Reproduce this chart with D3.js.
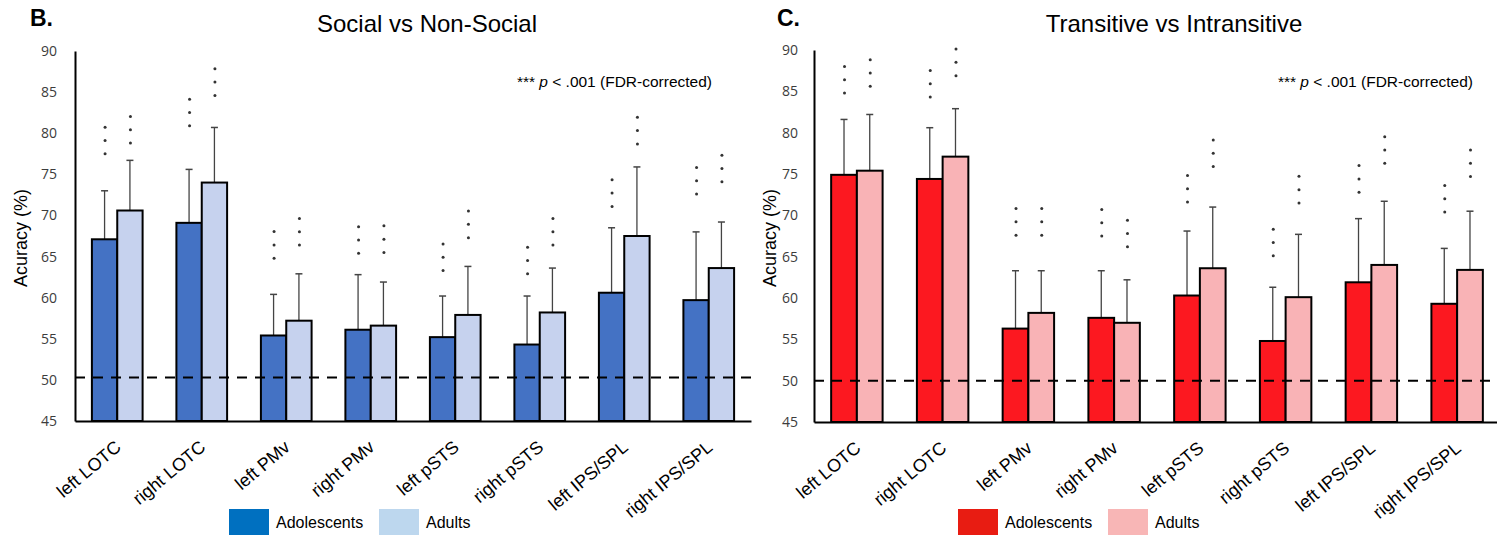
<!DOCTYPE html>
<html>
<head>
<meta charset="utf-8">
<script src="https://cdn.jsdelivr.net/npm/d3@7"></script>
<style>
  body { margin: 0; background: #fff; }
  svg { display: block; }
</style>
</head>
<body>
<svg id="chart"></svg>
<script>
// regions on the x axis (same for both panels)
var regions = ["left LOTC", "right LOTC", "left PMv", "right PMv", "left pSTS", "right pSTS", "left IPS/SPL", "right IPS/SPL"]
var groups = ["Adolescents", "Adults"]
var yTicks = [45, 50, 55, 60, 65, 70, 75, 80, 85, 90]

// B. Social vs Non-Social
var socialAdol = [67.1, 69.1, 55.4, 56.1, 55.2, 54.3, 60.6, 59.7]
var socialAdult = [70.6, 74.0, 57.2, 56.6, 57.9, 58.2, 67.5, 63.6]
var socialAdolErr = [5.9, 6.5, 5.0, 6.7, 5.0, 5.9, 7.9, 8.3]
var socialAdultErr = [6.1, 6.7, 5.7, 5.3, 5.9, 5.4, 8.4, 5.6]
// height (in %) of the lowest of the three significance stars
var socialAdolStar = [77.5, 80.9, 64.8, 65.4, 63.3, 62.9, 71.1, 72.6]
var socialAdultStar = [78.8, 84.6, 66.4, 65.5, 67.3, 66.4, 78.7, 74.1]
var socialChance = 50.3

// C. Transitive vs Intransitive
var transAdol = [74.9, 74.4, 56.3, 57.6, 60.3, 54.8, 61.9, 59.3]
var transAdult = [75.4, 77.1, 58.2, 57.0, 63.6, 60.1, 64.0, 63.4]
var transAdolErr = [6.7, 6.2, 7.0, 5.7, 7.8, 6.5, 7.7, 6.7]
var transAdultErr = [6.8, 5.8, 5.1, 5.2, 7.4, 7.6, 7.7, 7.1]
var transAdolStar = [84.8, 84.3, 67.6, 67.5, 71.6, 65.1, 72.8, 70.4]
var transAdultStar = [85.6, 86.9, 67.6, 66.2, 75.9, 71.5, 76.3, 74.7]
var transChance = 50

var svg = d3.select("#chart")
    .attr("width", 1497)
    .attr("height", 537)
    .style("font-family", "'Liberation Sans', Arial, sans-serif")

function drawPanel(p) {
    var g = svg.append("g")

    var yScale = d3.scaleLinear()
        .domain([45, 90])
        .range([p.bottom, p.top])

    var x0 = d3.scaleBand()
        .domain(regions)
        .range([p.left, p.right])
        .paddingInner(0.4)
        .paddingOuter(0.2)

    var x1 = d3.scaleBand()
        .domain(groups)
        .range([0, x0.bandwidth()])

    var rows = regions.map(function(r, i) {
        return [
            {region: r, group: "Adolescents", value: p.adol[i], err: p.adolErr[i], star: p.adolStar[i], fill: p.colors[0]},
            {region: r, group: "Adults", value: p.adult[i], err: p.adultErr[i], star: p.adultStar[i], fill: p.colors[1]}
        ]
    }).flat()

    var cx = d => x0(d.region) + x1(d.group) + x1.bandwidth() / 2

    // error bars (upper half only)
    var errs = g.append("g")
        .selectAll("g")
        .data(rows)
        .enter()
        .append("g")
    errs.append("line")
        .attr("x1", cx).attr("x2", cx)
        .attr("y1", d => yScale(d.value))
        .attr("y2", d => yScale(d.value + d.err))
        .attr("stroke", "#444")
        .attr("stroke-width", 1.3)
    errs.append("line")
        .attr("x1", d => cx(d) - 3.5).attr("x2", d => cx(d) + 3.5)
        .attr("y1", d => yScale(d.value + d.err))
        .attr("y2", d => yScale(d.value + d.err))
        .attr("stroke", "#444")
        .attr("stroke-width", 1.5)

    // bars
    g.append("g")
        .selectAll("rect")
        .data(rows)
        .enter()
        .append("rect")
        .attr("x", d => x0(d.region) + x1(d.group))
        .attr("y", d => yScale(d.value))
        .attr("width", x1.bandwidth())
        .attr("height", d => yScale(45) - yScale(d.value))
        .attr("fill", d => d.fill)
        .attr("stroke", "#000")
        .attr("stroke-width", 2)

    // *** markers, three stacked dots
    var dots = []
    rows.forEach(function(d) {
        for (var k = 0; k < 3; k++) dots.push({d: d, k: k})
    })
    g.append("g")
        .selectAll("circle")
        .data(dots)
        .enter()
        .append("circle")
        .attr("cx", o => cx(o.d) + 0.5)
        .attr("cy", o => yScale(o.d.star) - o.k * 13.3)
        .attr("r", 1.5)
        .attr("fill", "#333")

    // chance level
    g.append("line")
        .attr("x1", p.left).attr("x2", p.right)
        .attr("y1", yScale(p.chance)).attr("y2", yScale(p.chance))
        .attr("stroke", "#000")
        .attr("stroke-width", 2)
        .attr("stroke-dasharray", "10,8")

    // y axis
    var yAxisGen = d3.axisLeft(yScale).tickValues(yTicks).tickSize(0).tickPadding(p.tickPad)
    var yAxis = g.append("g")
        .attr("transform", `translate(${p.left},0)`)
        .call(yAxisGen)
    yAxis.select(".domain").attr("stroke", "#000").attr("stroke-width", 2)
    yAxis.selectAll("text")
        .style("font-family", "'Open Sans', sans-serif")
        .style("font-size", "14px")
        .attr("fill", "#3c3c3c")

    // x axis
    var xAxisGen = d3.axisBottom(x0).tickSize(0).tickFormat("")
    var xAxis = g.append("g")
        .attr("transform", `translate(0,${p.bottom})`)
        .call(xAxisGen)
    xAxis.select(".domain").attr("stroke", "#000").attr("stroke-width", 2.2)

    g.append("g")
        .selectAll("text")
        .data(regions)
        .enter()
        .append("text")
        .attr("transform", d => `translate(${x0(d) + x0.bandwidth() / 2 + 5},${p.bottom + 28}) rotate(-40)`)
        .attr("text-anchor", "end")
        .style("font-size", "18px")
        .attr("fill", "#000")
        .text(d => d)

    // y title
    g.append("text")
        .attr("transform", `translate(${p.yTitleX},${(p.top + p.bottom) / 2 + 2}) rotate(-90)`)
        .attr("text-anchor", "middle")
        .style("font-size", "18px")
        .text("Acuracy (%)")

    // panel letter and title
    g.append("text")
        .attr("x", p.letterX).attr("y", 26)
        .style("font-size", "23px")
        .style("font-weight", "bold")
        .text(p.letter)
    g.append("text")
        .attr("x", p.titleX).attr("y", 32)
        .attr("text-anchor", "middle")
        .style("font-size", "24px")
        .text(p.title)

    // significance note
    var note = g.append("text")
        .attr("x", p.noteX).attr("y", 87)
        .attr("text-anchor", "end")
        .style("font-size", "15.5px")
    note.append("tspan").text("*** ")
    note.append("tspan").style("font-style", "italic").text("p")
    note.append("tspan").text(" < .001 (FDR-corrected)")

    // legend
    var leg = g.append("g")
        .selectAll("g")
        .data(groups)
        .enter()
        .append("g")
        .attr("transform", (d, i) => `translate(${p.legendX + i * 150},509)`)
    leg.append("rect")
        .attr("width", 40).attr("height", 26)
        .attr("fill", (d, i) => p.legendColors[i])
    leg.append("text")
        .attr("x", 47).attr("y", 19)
        .style("font-size", "16px")
        .text(d => d)
}

drawPanel({
    letter: "B.", letterX: 30, title: "Social vs Non-Social", titleX: 427,
    left: 75, right: 751, top: 51, bottom: 421, tickPad: 18, yTitleX: 27,
    noteX: 712, legendX: 229,
    adol: socialAdol, adult: socialAdult, adolErr: socialAdolErr, adultErr: socialAdultErr,
    adolStar: socialAdolStar, adultStar: socialAdultStar, chance: socialChance,
    colors: ["#4472c4", "#c6d2ee"], legendColors: ["#0070c0", "#bdd7ee"]
})

drawPanel({
    letter: "C.", letterX: 777, title: "Transitive vs Intransitive", titleX: 1174,
    left: 814, right: 1500, top: 50, bottom: 422, tickPad: 16, yTitleX: 776,
    noteX: 1473, legendX: 958,
    adol: transAdol, adult: transAdult, adolErr: transAdolErr, adultErr: transAdultErr,
    adolStar: transAdolStar, adultStar: transAdultStar, chance: transChance,
    colors: ["#fc1820", "#f9b3b6"], legendColors: ["#e81c12", "#f8b6b6"]
})
</script>
</body>
</html>
